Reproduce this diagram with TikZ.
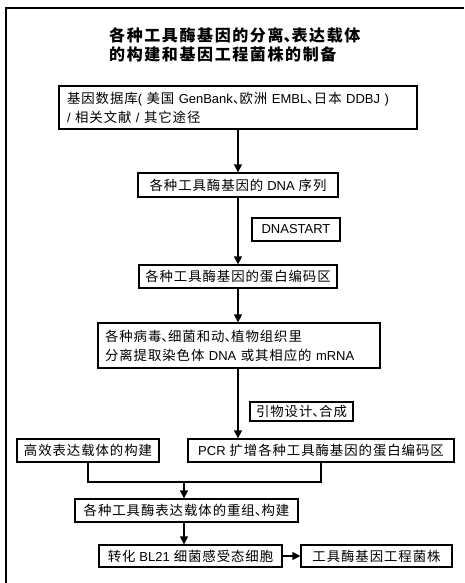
\documentclass[tikz,border=0pt]{standalone}
\usepackage{fontspec}
\setmainfont{Noto Sans CJK SC}[LetterSpace=7]
\newfontfamily\lat{Liberation Sans}[Scale=0.97]
\newcommand{\dun}{\makebox[0.5em][l]{、}}
\usetikzlibrary{arrows.meta}
\tikzset{
  box/.style={draw, line width=1.3pt, inner sep=0pt, align=center,
    font=\fontsize{13.4}{19}\selectfont},
  lbox/.style={box, align=left},
  conn/.style={line width=1.3pt},
  arr/.style={conn, -{Triangle[length=8pt,width=8pt]}},
}
\begin{document}
\begin{tikzpicture}[x=1pt,y=-1pt]
\useasboundingbox (0,0) rectangle (464,583);
% outer frame
\draw[line width=2pt] (5.5,583) -- (5.5,8) -- (464,8);
% title
\node[anchor=west, align=left, inner sep=0pt, font=\fontsize{16}{19}\selectfont\bfseries\addfontfeature{LetterSpace=10}] (title) at (109,44.5)
  {各种工具酶基因的分离\dun 表达载体\\的构建和基因工程菌株的制备};
% boxes
\node[lbox, minimum width=358pt, minimum height=43pt, text width=342pt] (b1) at (238,107.5)
  {基因数据库{\lat( }美国 {\lat GenBank}\dun 欧洲 {\lat EMBL}\dun 日本 {\lat DDBJ )}\\{\lat/ }相关文献 {\lat/ }其它途径};
\node[box, minimum width=200pt, minimum height=24pt] (b2) at (238,185)
  {各种工具酶基因的 {\lat DNA} 序列};
\node[box, minimum width=88pt, minimum height=23pt] (ds) at (296,229.5)
  {\lat DNASTART};
\node[box, minimum width=198pt, minimum height=23pt] (b3) at (238,276.5)
  {各种工具酶基因的蛋白编码区};
\node[lbox, minimum width=282pt, minimum height=45pt, text width=268pt] (b4) at (239,345.5)
  {各种病毒\dun 细菌和动\dun 植物组织里\\分离提取染色体 {\lat DNA} 或其相应的 {\lat mRNA}};
\node[box, minimum width=103pt, minimum height=19pt] (pr) at (301.5,411.5)
  {引物设计\dun 合成};
\node[box, minimum width=142pt, minimum height=23pt] (gx) at (88,450.5)
  {高效表达载体的构建};
\node[box, minimum width=266pt, minimum height=23pt] (pcr) at (321,450.5)
  {{\lat PCR} 扩增各种工具酶基因的蛋白编码区};
\node[box, minimum width=223pt, minimum height=23pt] (cz) at (186.5,510.5)
  {各种工具酶表达载体的重组\dun 构建};
\node[box, minimum width=183pt, minimum height=22pt] (zh) at (190.5,556)
  {转化 {\lat BL21} 细菌感受态细胞};
\node[box, minimum width=151pt, minimum height=22pt] (gc) at (376.5,556)
  {工具酶基因工程菌株};
% connectors
\coordinate (m) at (184,482);
\draw[arr] (b1) -- (b2);
\draw[arr] (b2) -- (b3);
\draw[arr] (b3.south) -- (b4.north -| b3.south);
\draw[arr] (b4.south -| b3.south) -- (pcr.north -| b3.south);
\draw[conn] (gx.south) |- (m) -| (pcr.south);
\draw[arr] (m) -- (cz.north -| m);
\draw[arr] (cz.south -| m) -- (zh.north -| m);
\draw[arr] (zh) -- (gc);
\end{tikzpicture}
\end{document}
